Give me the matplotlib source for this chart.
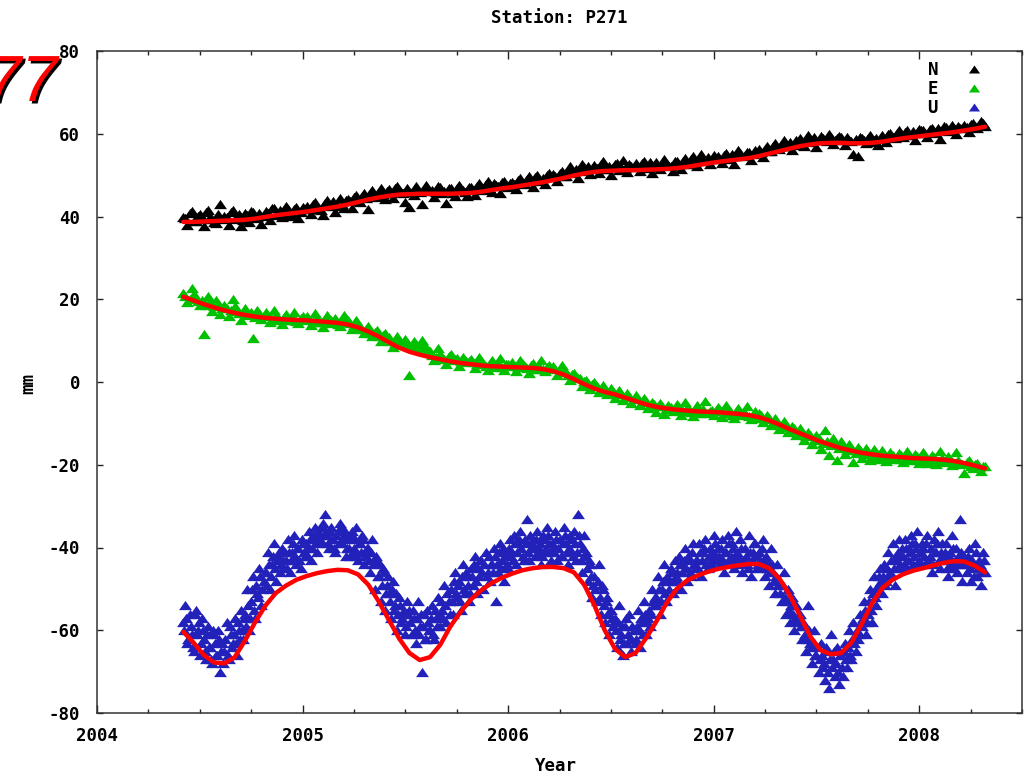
import numpy as np
import matplotlib
matplotlib.use("Agg")
import matplotlib.pyplot as plt
from matplotlib.path import Path
from matplotlib import patheffects as pe

# ---------------------------------------------------------------- data
station = "P271"
components = ["N", "E", "U"]
year_ticks = [2004, 2005, 2006, 2007, 2008]
mm_ticks = [-80, -60, -40, -20, 0, 20, 40, 60, 80]

# sampling of the series (decimal years); each component is stored as two
# interleaved runs: run "a" starts at series_start, run "b" half a step later
series_start = 2004.42
ne_step = 0.02
u_step = 0.01
fit_step = 0.05

# North component, mm
north_mm_a = [
    40.0, 37.9, 41.3, 39.0, 40.5, 37.6, 41.6, 39.5, 38.4, 43.0,
    40.2, 38.0, 41.5, 39.6, 37.8, 40.9, 38.7, 41.2, 39.9, 38.3,
    41.3, 39.2, 42.0, 40.5, 39.8, 42.6, 40.1, 41.7, 39.6, 42.4,
    42.5, 40.6, 43.4, 41.8, 40.3, 44.0, 42.6, 41.2, 44.5, 42.0,
    44.2, 42.1, 45.3, 43.6, 45.8, 41.7, 46.3, 44.9, 47.0, 44.3,
    46.6, 44.4, 47.4, 45.9, 43.5, 42.2, 45.2, 46.5, 43.0, 47.6,
    46.2, 44.6, 47.3, 45.8, 43.2, 46.9, 45.0, 47.5, 46.4, 44.9,
    47.1, 45.3, 48.0, 46.4, 48.5, 46.0, 47.7, 45.8, 48.6, 47.2,
    48.4, 46.6, 49.2, 47.8, 49.8, 47.2, 50.0, 48.6, 47.9, 50.4,
    50.3, 48.5, 51.0, 49.9, 52.1, 50.4, 49.3, 52.6, 51.3, 50.2,
    52.4, 50.5, 53.3, 51.6, 50.1, 52.8, 51.2, 53.6, 50.8, 52.2,
    52.9, 51.0, 53.5, 52.0, 50.4, 53.1, 51.6, 54.0, 52.4, 51.1,
    53.4, 51.5, 54.1, 52.6, 54.6, 52.1, 55.0, 53.4, 52.6, 54.8,
    54.7, 53.0, 55.3, 53.9, 52.8, 56.0, 54.6, 55.6, 53.7, 56.1,
    56.2, 54.5, 57.0, 55.9, 57.8, 56.2, 58.4, 57.0, 56.0, 58.6,
    58.9, 57.0, 59.6, 58.2, 56.9, 59.4, 58.5, 60.0, 57.6, 59.0,
    59.3, 57.2, 58.6, 55.2, 54.6, 59.0, 57.7, 59.6, 58.4, 57.3,
    59.6, 58.0, 60.3, 58.9, 60.8, 59.2, 61.0, 59.7, 58.6, 61.2,
    60.9, 59.3, 61.5, 60.2, 58.8, 61.9, 60.6, 62.2, 59.9, 61.4,
    62.0, 60.4, 62.7, 61.3, 63.0, 61.8,
]
north_mm_b = [
    39.6, 40.8, 38.9, 40.2, 39.3, 41.0, 39.8, 38.6, 40.5, 39.4,
    39.9, 41.1, 39.4, 40.6, 39.1, 40.3, 41.4, 39.7, 40.9, 40.2,
    40.8, 42.0, 40.3, 41.5, 40.9, 41.9, 40.6, 42.4, 41.2, 41.8,
    41.9, 43.1, 42.4, 41.6, 43.3, 42.7, 43.8, 42.5, 43.1, 44.0,
    43.8, 44.6, 43.9, 45.0, 44.5, 45.6, 44.8, 45.9, 45.4, 46.2,
    45.8, 47.0, 46.2, 45.6, 46.9, 46.0, 47.3, 45.9, 46.7, 46.1,
    46.4, 45.9, 47.1, 46.2, 46.8, 45.8, 47.0, 46.5, 45.9, 47.2,
    46.5, 47.4, 46.8, 47.9, 46.6, 48.0, 47.4, 48.3, 47.6, 48.1,
    47.9, 48.8, 48.2, 49.0, 48.5, 49.6, 48.9, 49.3, 50.1, 49.5,
    49.7, 50.6, 49.9, 51.1, 50.7, 51.6, 51.0, 51.9, 52.3, 51.5,
    51.8, 52.7, 51.5, 52.3, 51.9, 53.0, 52.0, 51.7, 52.8, 51.9,
    52.1, 52.9, 51.8, 53.2, 52.4, 51.9, 53.0, 52.5, 52.2, 53.3,
    52.6, 53.5, 52.7, 53.9, 53.2, 54.0, 53.6, 54.3, 53.8, 54.2,
    54.0, 54.9, 54.3, 55.2, 54.6, 55.3, 54.8, 55.7, 55.1, 55.6,
    55.5, 56.4, 55.9, 57.1, 56.6, 57.6, 57.0, 57.9, 57.4, 58.3,
    58.1, 58.8, 57.9, 59.1, 58.5, 58.9, 58.3, 59.2, 58.6, 59.4,
    58.5, 59.1, 58.2, 58.8, 59.3, 58.4, 58.9, 58.1, 59.0, 58.7,
    59.0, 59.9, 59.2, 60.1, 59.6, 60.4, 59.8, 60.6, 60.2, 60.9,
    60.3, 61.1, 60.5, 61.3, 60.8, 61.6, 61.0, 61.4, 61.9, 61.5,
    61.6, 62.4, 61.8, 62.1, 62.6,
]

# East component, mm
east_mm_a = [
    21.5, 19.4, 22.6, 20.3, 18.5, 11.6, 20.9, 17.2, 19.8, 16.4,
    18.6, 16.0, 20.1, 17.2, 15.1, 18.0, 16.5, 10.6, 17.3, 15.2,
    16.8, 14.6, 17.3, 15.5, 13.9, 16.4, 15.1, 17.0, 14.2, 16.0,
    15.9, 13.8, 16.7, 14.6, 13.2, 16.1, 14.9, 15.4, 13.5, 16.3,
    14.9, 12.8, 15.0, 13.4, 11.9, 13.5, 11.0, 12.6, 10.0, 11.8,
    10.8, 8.5, 11.2, 9.6, 10.5, 1.6, 9.8, 7.9, 10.2, 8.4,
    7.5, 5.2, 8.3, 6.0, 4.3, 6.8, 5.5, 3.9, 6.1, 4.8,
    5.6, 3.4, 6.0, 4.5, 2.8, 5.2, 3.6, 5.9, 3.0, 4.4,
    4.8, 2.7, 5.4, 3.9, 2.2, 4.6, 3.1, 5.2, 2.6, 4.0,
    3.9, 1.8, 4.1, 2.5, 0.6, 2.2, 1.0, -0.9, 0.6, -1.6,
    0.1, -2.4, -0.7, -3.0, -1.5, -3.9, -2.0, -4.4, -2.6, -5.0,
    -3.2, -5.6, -3.9, -6.4, -4.8, -7.2, -5.1, -7.8, -5.6, -7.0,
    -5.4, -7.9, -4.9, -6.6, -8.3, -5.6, -7.4, -4.7, -6.9, -8.0,
    -6.0, -8.4, -5.5, -7.1, -8.7, -6.2, -7.6, -5.9, -8.9, -7.0,
    -7.4, -9.6, -7.9, -10.5, -8.7, -11.3, -9.4, -12.2, -10.6, -12.9,
    -11.0, -13.9, -12.0, -15.0, -12.7, -16.3, -11.7, -17.6, -13.6, -18.8,
    -14.2, -17.5, -15.0, -19.4, -15.6, -18.3, -16.0, -18.9, -16.3, -18.5,
    -16.4, -19.0, -16.9, -18.6, -17.2, -19.4, -16.7, -18.9, -17.4, -19.6,
    -17.0, -19.5, -17.6, -19.9, -16.6, -19.2, -17.8, -20.0, -16.9, -19.6,
    -22.0, -18.9, -20.8, -19.5, -21.6, -20.4,
]
east_mm_b = [
    20.8, 20.0, 21.3, 19.6, 19.9, 18.7, 19.5, 18.3, 18.9, 17.9,
    17.9, 17.4, 18.3, 16.6, 17.0, 16.2, 16.9, 15.8, 16.6, 16.0,
    15.9, 15.3, 16.2, 14.9, 15.6, 15.0, 15.8, 14.7, 15.5, 15.1,
    15.3, 14.6, 15.5, 14.4, 15.2, 14.3, 14.8, 14.1, 14.9, 14.6,
    14.2, 13.7, 13.9, 12.8, 12.9, 11.9, 12.0, 11.1, 11.3, 10.6,
    10.0, 9.5, 9.9, 9.2, 9.6, 8.7, 9.1, 8.4, 8.6, 7.7,
    6.6, 6.0, 6.7, 5.5, 6.2, 5.4, 5.9, 5.0, 5.4, 5.1,
    4.9, 4.3, 5.0, 3.9, 4.6, 3.8, 4.5, 3.7, 4.3, 3.9,
    4.2, 3.6, 4.3, 3.4, 4.0, 3.2, 3.9, 3.1, 3.6, 3.3,
    3.1, 2.5, 2.6, 1.8, 1.9, 1.2, 0.9, 0.3, -0.2, -0.6,
    -1.0, -1.7, -1.6, -2.4, -2.1, -3.0, -2.9, -3.6, -3.5, -4.1,
    -4.1, -4.8, -4.6, -5.6, -5.2, -5.9, -5.8, -6.5, -6.0, -6.7,
    -6.1, -6.9, -6.3, -7.2, -6.5, -7.4, -6.6, -7.5, -6.8, -7.0,
    -6.8, -7.6, -7.0, -7.9, -7.2, -8.0, -7.5, -8.3, -7.9, -8.6,
    -8.0, -9.0, -8.8, -9.8, -9.6, -10.8, -10.4, -11.5, -11.2, -12.4,
    -12.1, -13.0, -12.9, -13.9, -13.5, -14.8, -14.2, -15.3, -14.9, -16.0,
    -15.5, -16.5, -16.0, -17.1, -16.4, -17.5, -16.9, -17.8, -17.0, -17.9,
    -17.3, -18.3, -17.6, -18.5, -17.7, -18.7, -17.9, -18.8, -18.0, -18.9,
    -18.1, -19.0, -18.2, -19.1, -18.3, -19.3, -18.6, -19.5, -18.9, -19.8,
    -19.3, -20.3, -19.8, -20.6, -20.2,
]

# Up component, mm
up_mm_a = [
    -58, -54, -63, -56, -61, -65, -55, -60, -66, -57,
    -62, -67, -59, -64, -68, -61, -66, -60, -70, -63,
    -65, -58, -67, -61, -63, -57, -66, -60, -55, -62,
    -56, -50, -60, -53, -47, -57, -51, -45, -54, -48,
    -46, -41, -50, -44, -39, -48, -42, -46, -40, -45,
    -43, -38, -46, -41, -37, -44, -40, -45, -39, -42,
    -40, -36, -43, -38, -35, -41, -37, -39, -34, -32,
    -37, -40, -35, -38, -41, -36, -34, -39, -37, -42,
    -38, -42, -36, -40, -35, -43, -39, -37, -44, -41,
    -40, -46, -38, -50, -43, -47, -53, -45, -55, -49,
    -51, -57, -48, -54, -60, -52, -58, -56, -61, -53,
    -55, -61, -57, -63, -53, -59, -70, -56, -62, -58,
    -60, -54, -62, -57, -52, -59, -55, -49, -58, -53,
    -50, -56, -46, -52, -48, -55, -44, -51, -47, -53,
    -45, -49, -42, -51, -47, -43, -50, -41, -46, -48,
    -44, -40, -53, -46, -39, -43, -48, -41, -45, -38,
    -41, -37, -44, -39, -36, -42, -38, -33, -43, -40,
    -38, -42, -36, -40, -44, -37, -41, -35, -39, -43,
    -40, -36, -43, -38, -42, -35, -39, -44, -37, -41,
    -36, -43, -32, -39, -46, -37, -41, -48, -44, -52,
    -47, -53, -44, -56, -50, -58, -52, -61, -55, -59,
    -57, -64, -54, -61, -66, -59, -63, -56, -65, -60,
    -62, -55, -64, -58, -53, -61, -57, -59, -50, -54,
    -52, -47, -56, -50, -44, -53, -48, -45, -51, -43,
    -46, -42, -50, -44, -40, -48, -43, -47, -39, -45,
    -43, -39, -47, -41, -38, -45, -40, -44, -37, -42,
    -40, -44, -38, -46, -41, -37, -43, -39, -45, -36,
    -42, -38, -46, -40, -44, -37, -47, -41, -39, -45,
    -41, -45, -38, -47, -43, -49, -40, -46, -51, -44,
    -48, -53, -46, -56, -50, -58, -52, -60, -54, -57,
    -56, -62, -59, -65, -54, -63, -68, -60, -66, -70,
    -63, -69, -72, -65, -74, -61, -67, -71, -64, -73,
    -66, -71, -63, -69, -60, -67, -58, -65, -62, -56,
    -59, -53, -61, -56, -50, -58, -47, -54, -49, -45,
    -51, -44, -48, -41, -46, -39, -49, -43, -38, -45,
    -42, -38, -45, -40, -37, -44, -39, -36, -43, -41,
    -40, -44, -37, -42, -46, -38, -41, -36, -45, -39,
    -43, -39, -47, -41, -37, -45, -40, -44, -33, -48,
    -42, -46, -40, -48, -44, -39, -47, -43, -49, -41,
    -46,
]
up_mm_b = [
    -60, -57, -62, -59, -64, -56, -61, -58, -63, -60,
    -65, -61, -64, -67, -60, -63, -66, -62, -65, -68,
    -62, -66, -59, -64, -61, -63, -58, -62, -60, -57,
    -59, -54, -57, -50, -55, -49, -52, -47, -50, -46,
    -49, -44, -47, -42, -45, -43, -41, -44, -43, -41,
    -45, -41, -43, -39, -42, -40, -43, -38, -41, -39,
    -42, -38, -40, -37, -39, -36, -38, -35, -37, -36,
    -39, -36, -38, -40, -37, -39, -35, -38, -36, -40,
    -40, -37, -41, -38, -42, -39, -41, -38, -42, -40,
    -43, -41, -44, -42, -47, -44, -49, -46, -51, -47,
    -53, -50, -55, -51, -56, -54, -57, -55, -59, -56,
    -58, -55, -60, -57, -61, -56, -59, -62, -55, -60,
    -57, -61, -55, -59, -56, -53, -57, -54, -51, -56,
    -53, -48, -51, -49, -53, -47, -50, -46, -49, -51,
    -47, -44, -48, -45, -43, -46, -44, -47, -42, -44,
    -46, -42, -44, -41, -45, -40, -42, -44, -40, -42,
    -43, -39, -41, -38, -40, -43, -39, -41, -37, -39,
    -40, -38, -41, -39, -42, -38, -40, -37, -41, -39,
    -41, -38, -40, -42, -39, -37, -41, -40, -38, -42,
    -39, -41, -37, -43, -40, -42, -45, -43, -47, -49,
    -50, -48, -52, -49, -54, -53, -56, -55, -57, -58,
    -60, -58, -62, -59, -63, -57, -61, -62, -59, -63,
    -59, -60, -57, -61, -56, -58, -55, -56, -53, -52,
    -54, -50, -53, -48, -51, -47, -50, -46, -48, -47,
    -48, -44, -46, -43, -45, -42, -46, -41, -44, -43,
    -45, -41, -43, -40, -44, -42, -43, -41, -39, -43,
    -42, -40, -43, -41, -44, -39, -42, -40, -43, -41,
    -44, -40, -43, -42, -45, -41, -43, -39, -42, -44,
    -43, -40, -44, -42, -45, -46, -44, -48, -47, -49,
    -51, -49, -52, -53, -55, -54, -56, -57, -58, -56,
    -59, -58, -61, -62, -60, -64, -63, -66, -64, -67,
    -66, -68, -64, -70, -67, -69, -65, -68, -70, -66,
    -69, -65, -67, -64, -66, -62, -63, -60, -61, -58,
    -57, -55, -58, -53, -55, -51, -52, -50, -47, -48,
    -47, -49, -45, -47, -43, -45, -42, -41, -44, -40,
    -44, -40, -43, -41, -39, -42, -40, -44, -41, -39,
    -42, -39, -43, -40, -44, -41, -39, -43, -41, -42,
    -41, -45, -42, -44, -40, -43, -46, -42, -41, -44,
    -44, -42, -45, -43, -47, -41, -45, -44, -46, -43,
]

# smoothed fits, mm
north_fit = [
    38.7, 38.7, 38.8, 38.9, 39.0, 39.1, 39.2, 39.5, 39.9, 40.3, 40.6, 40.9,
    41.2, 41.6, 42.0, 42.4, 42.9, 43.5, 44.1, 44.6, 45.0, 45.3,
    45.4, 45.5, 45.5, 45.5, 45.5, 45.6, 45.7, 46.0, 46.4, 46.8,
    47.1, 47.5, 47.9, 48.3, 48.8, 49.3, 49.9, 50.4, 50.8, 51.0,
    51.1, 51.2, 51.2, 51.3, 51.4, 51.5, 51.7, 52.0, 52.4, 52.8,
    53.2, 53.5, 53.8, 54.1, 54.6, 55.2, 55.8, 56.4, 57.0, 57.4,
    57.7, 57.8, 57.8, 57.7, 57.7, 57.8, 58.1, 58.5, 58.9, 59.2,
    59.5, 59.8, 60.1, 60.4, 60.8, 61.2, 61.7,
]
east_fit = [
    20.6, 19.7, 18.8, 18.0, 17.3, 16.7, 16.2, 15.8, 15.5, 15.3, 15.1, 15.0,
    14.9, 14.7, 14.5, 14.3, 13.9, 13.2, 12.2, 11.0, 9.6, 8.3,
    7.3, 6.6, 6.0, 5.5, 5.0, 4.6, 4.3, 4.0, 3.8, 3.7,
    3.6, 3.5, 3.4, 3.1, 2.6, 1.8, 0.7, -0.5, -1.6, -2.4,
    -3.0, -3.8, -4.6, -5.4, -6.0, -6.4, -6.7, -6.9, -7.1, -7.2,
    -7.3, -7.5, -7.7, -8.0, -8.5, -9.3, -10.3, -11.4, -12.4, -13.4,
    -14.4, -15.2, -16.0, -16.6, -17.1, -17.5, -17.8, -18.0, -18.2, -18.4,
    -18.5, -18.6, -18.8, -19.1, -19.6, -20.2, -20.9,
]
up_fit = [
    -60.4, -63.0, -66.0, -67.8, -68.0, -66.5, -62.5, -58.0, -54.0, -51.0, -49.2, -47.8,
    -46.9, -46.2, -45.7, -45.4, -45.5, -46.5, -49.0, -53.0, -57.5, -62.0,
    -65.5, -67.2, -66.5, -63.5, -59.0, -55.5, -52.5, -50.3, -48.6, -47.3,
    -46.3, -45.5, -45.0, -44.7, -44.7, -45.0, -46.0, -49.0, -54.0, -60.0,
    -64.5, -66.5, -65.5, -62.0, -58.0, -53.5, -50.0, -48.0, -46.8, -45.9,
    -45.2, -44.7, -44.3, -44.0, -44.0, -45.0, -47.5, -51.5, -56.5, -61.5,
    -64.8, -65.8, -65.5, -63.0, -58.5, -53.5, -49.8, -47.8, -46.5, -45.6,
    -45.0, -44.3, -43.7, -43.3, -43.4, -44.4, -46.0,
]

# ---------------------------------------------------------------- style
W, H, DPI = 1033, 773, 100
MONO = ["DejaVu Sans Mono"]
FS = 12.5
colors = {"N": "#000000", "E": "#00c000", "U": "#2222bb"}
fit_color = "#ff0000"

# flat triangle marker (wider than tall)
tri = Path([(0.0, 0.72), (-1.0, -0.72), (1.0, -0.72), (0.0, 0.72)],
           [Path.MOVETO, Path.LINETO, Path.LINETO, Path.CLOSEPOLY])
msize = 9.3

fig = plt.figure(figsize=(W / DPI, H / DPI), dpi=DPI)
fig.patch.set_facecolor("white")
ax = fig.add_axes([97 / W, 1 - 713 / H, (1022 - 97) / W, (713 - 51) / H])


def times(n, step, offset=0.0):
    return series_start + offset + step * np.arange(n)


series = [
    ("N", north_mm_a, north_mm_b, ne_step, north_fit),
    ("E", east_mm_a, east_mm_b, ne_step, east_fit),
    ("U", up_mm_a, up_mm_b, u_step, up_fit),
]

for name, va, vb, step, _ in series:
    t = np.concatenate([times(len(va), step), times(len(vb), step, step / 2)])
    v = np.concatenate([va, vb])
    order = np.argsort(t, kind="stable")
    ax.plot(t[order], v[order], linestyle="none", marker=tri,
            markersize=msize, markerfacecolor=colors[name],
            markeredgewidth=0, color=colors[name], label=name, zorder=2)

for name, _, _, _, fit in series:
    ax.plot(times(len(fit), fit_step), fit, color=fit_color, lw=3.2,
            solid_capstyle="round", solid_joinstyle="round", zorder=3)

ax.set_xlim(2004, 2008.5)
ax.set_ylim(-80, 80)
ax.set_xticks(year_ticks)
ax.set_xticks(np.arange(2004, 2008.51, 0.25), minor=True)
ax.set_yticks(mm_ticks)
ax.set_xticklabels([str(y) for y in year_ticks])
ax.set_yticklabels([str(v) for v in mm_ticks])

for lab in ax.get_xticklabels() + ax.get_yticklabels():
    lab.set_family(MONO)
    lab.set_fontweight("bold")
    lab.set_fontsize(FS)

ax.tick_params(axis="both", which="both", direction="in", top=True,
               right=True, width=1, color="#222222")
ax.tick_params(axis="x", which="major", length=5.5, pad=10)
ax.tick_params(axis="x", which="minor", length=3)
ax.tick_params(axis="y", which="major", length=4.5, pad=12)
for s in ax.spines.values():
    s.set_linewidth(1.1)
    s.set_color("#333333")

leg = ax.legend(loc="upper right", bbox_to_anchor=(0.958, 0.985),
                markerfirst=False, frameon=False, borderaxespad=0,
                borderpad=0, handlelength=1.0, handletextpad=1.6,
                labelspacing=0.05, markerscale=8.0 / msize,
                prop={"family": MONO, "weight": "bold", "size": FS})

fig.text(559 / W, 1 - 18 / H, f"Station: {station}", ha="center",
         va="center", family=MONO, fontweight="bold", fontsize=FS)
fig.text(556 / W, 1 - 766 / H, "Year", ha="center", va="center",
         family=MONO, fontweight="bold", fontsize=FS)
fig.text(28 / W, 1 - 384 / H, "mm", ha="center", va="center",
         rotation=90, family=MONO, fontweight="bold", fontsize=FS)

# page number in the corner, with a drop shadow
fig.text(-15 / W, 1 - 101 / H, "77", ha="left", va="baseline", fontsize=47,
         style="italic", family=["Liberation Sans"],
         color="#ff0000",
         path_effects=[pe.withSimplePatchShadow(offset=(1.8, -1.8),
                                                shadow_rgbFace="black",
                                                alpha=1.0)])

fig.savefig("out.png", dpi=DPI, facecolor="white")
